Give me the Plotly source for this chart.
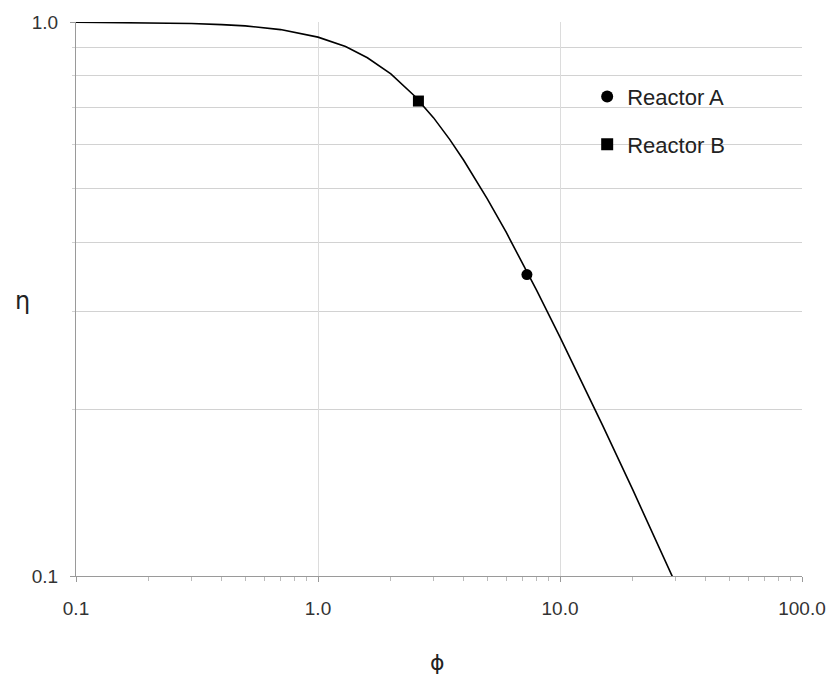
import plotly.graph_objects as go

# Curve: effectiveness factor eta vs Thiele modulus phi
phi = [0.1, 0.2, 0.3, 0.4, 0.5, 0.7, 1.0, 1.3, 1.6, 2.0, 2.5, 3.0, 3.5, 4.0,
       5.0, 6.0, 7.0, 8.0, 10.0, 12.0, 15.0, 20.0, 25.0, 30.0]
eta = [0.999, 0.997, 0.994, 0.989, 0.984, 0.969, 0.939, 0.903, 0.862, 0.806,
       0.736, 0.672, 0.614, 0.563, 0.480, 0.417, 0.367, 0.328, 0.270, 0.229,
       0.187, 0.143, 0.115, 0.097]

reactor_a_phi = [7.3]
reactor_a_eta = [0.35]
reactor_b_phi = [2.6]
reactor_b_eta = [0.72]

x_tickvals = [0.1, 1, 10, 100]
x_ticktext = ["0.1", "1.0", "10.0", "100.0"]
y_tickvals = [0.1, 1]
y_ticktext = ["0.1", "1.0"]

FONT = "Liberation Sans, Arial, sans-serif"

fig = go.Figure()
fig.add_trace(go.Scatter(x=phi, y=eta, mode="lines",
                         line=dict(color="black", width=1.6),
                         showlegend=False, hoverinfo="skip"))
fig.add_trace(go.Scatter(x=reactor_a_phi, y=reactor_a_eta, mode="markers",
                         name="Reactor A", legendgroup="a",
                         marker=dict(symbol="circle", size=11, color="black")))
fig.add_trace(go.Scatter(x=reactor_b_phi, y=reactor_b_eta, mode="markers",
                         name="Reactor B", legendgroup="b",
                         marker=dict(symbol="square", size=11, color="black")))

grid_major = "#dcdcdc"
grid_minor = "#d2d2d2"
axis_col = "#9a9a9a"

fig.update_xaxes(type="log", range=[-1, 2],
                 tickmode="array", tickvals=x_tickvals, ticktext=x_ticktext,
                 showgrid=True, gridcolor=grid_major, gridwidth=1,
                 showline=True, linecolor=axis_col, linewidth=1,
                 ticks="outside", ticklen=5, tickcolor=axis_col,
                 ticklabelstandoff=10,
                 tickfont=dict(family=FONT, size=19, color="#333333"),
                 minor=dict(tickvals=[0.2, 0.3, 0.4, 0.5, 0.6, 0.7, 0.8, 0.9,
                                      2, 3, 4, 5, 6, 7, 8, 9,
                                      20, 30, 40, 50, 60, 70, 80, 90],
                            ticks="outside", ticklen=4, tickcolor="#bbbbbb",
                            showgrid=False),
                 zeroline=False, mirror=False)
fig.update_yaxes(type="log", range=[-1, 0],
                 tickmode="array", tickvals=y_tickvals, ticktext=y_ticktext,
                 showgrid=True, gridcolor=grid_minor, gridwidth=1,
                 showline=True, linecolor=axis_col, linewidth=1,
                 ticks="outside", ticklen=5, tickcolor=axis_col,
                 ticklabelstandoff=8,
                 tickfont=dict(family=FONT, size=19, color="#333333"),
                 minor=dict(tickvals=[0.2, 0.3, 0.4, 0.5, 0.6, 0.7, 0.8, 0.9],
                            ticks="outside", ticklen=3, tickcolor=grid_minor,
                            showgrid=True, gridcolor=grid_minor, gridwidth=1),
                 zeroline=False)

# white legend background box
fig.add_shape(type="rect", xref="paper", yref="paper",
              x0=(581 - 76) / 730, x1=(748 - 76) / 730,
              y0=(576 - 170) / 556, y1=(576 - 58) / 556,
              fillcolor="white", line=dict(width=0), layer="between")

fig.add_annotation(text="ϕ", xref="paper", yref="paper",
                   x=(439 - 76) / 730, y=(576 - 663) / 556,
                   showarrow=False,
                   font=dict(family="DejaVu Sans, sans-serif", size=22, color="#222"),
                   xanchor="center", yanchor="middle")
fig.add_annotation(text="η", xref="paper", yref="paper",
                   x=(22 - 76) / 730, y=(576 - 300) / 556,
                   showarrow=False,
                   font=dict(family="DejaVu Sans, sans-serif", size=24, color="#222"),
                   xanchor="center", yanchor="middle")

fig.update_layout(
    width=838, height=679,
    margin=dict(l=76, r=32, t=20, b=103),
    paper_bgcolor="white", plot_bgcolor="white",
    font=dict(family=FONT, color="#222"),
    legend=dict(x=(590 - 76) / 730, y=(576 - 74) / 556,
                xanchor="left", yanchor="top",
                bgcolor="rgba(0,0,0,0)", borderwidth=0,
                font=dict(family=FONT, size=22, color="#222"),
                tracegroupgap=16, itemsizing="constant"),
)

fig.write_html("out.html", config={"displayModeBar": False},
               post_script="document.body.style.margin='0px';")
